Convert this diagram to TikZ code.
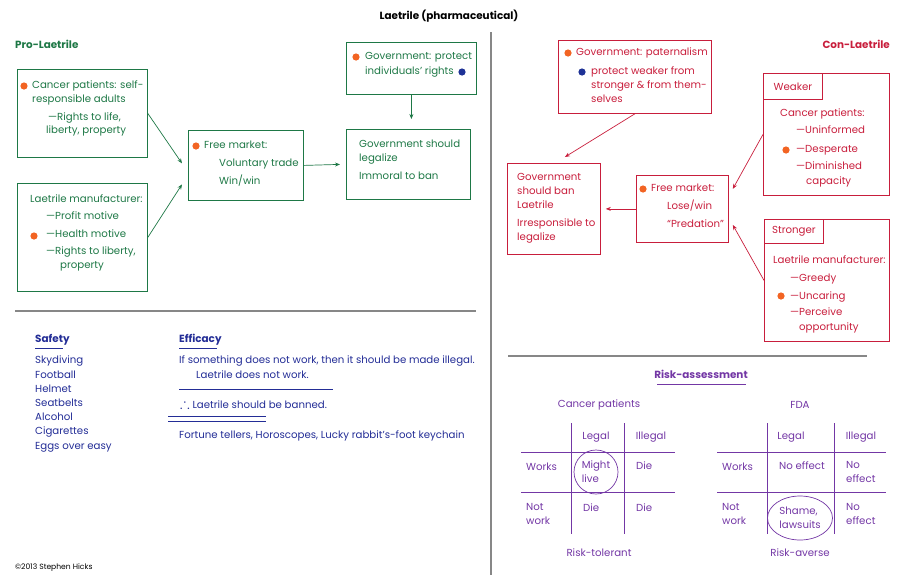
\documentclass[tikz,border=0pt]{standalone}
\usepackage{fontspec}
\usepackage{amssymb}
\setmainfont{Poppins}
\usetikzlibrary{arrows.meta,shapes.geometric}
\definecolor{ProGreen}{RGB}{30,120,70}
\definecolor{ConRed}{RGB}{200,30,60}
\definecolor{SafeBlue}{RGB}{35,45,150}
\definecolor{RiskPurple}{RGB}{115,55,165}
\definecolor{DotOrange}{RGB}{242,100,35}
\definecolor{DotBlue}{RGB}{30,50,150}
\definecolor{RuleGray}{RGB}{135,135,135}
\newcommand{\bodysize}{\fontsize{10.2}{14}\selectfont}
\newcommand{\headsize}{\fontsize{10.4}{14}\selectfont\bfseries}
\tikzset{
  pbox/.style={draw=ProGreen,line width=0.8pt,anchor=north west,inner sep=0pt},
  cbox/.style={draw=ConRed,line width=0.8pt,anchor=north west,inner sep=0pt},
  ptxt/.style={anchor=north west,inner sep=0pt,align=left,font=\bodysize,text=ProGreen},
  ctxt/.style={anchor=north west,inner sep=0pt,align=left,font=\bodysize,text=ConRed},
  btxt/.style={anchor=north west,inner sep=0pt,align=left,font=\bodysize,text=SafeBlue},
  rtxt/.style={anchor=north west,inner sep=0pt,align=left,font=\bodysize,text=RiskPurple},
  clbl/.style={cbox,font=\bodysize,text=ConRed},
  arrp/.style={-{Stealth[length=5pt,width=4pt]},ProGreen,line width=0.7pt},
  arrc/.style={-{Stealth[length=5pt,width=4pt]},ConRed,line width=0.7pt},
  odot/.style={fill=DotOrange},
  bdot/.style={fill=DotBlue},
  divider/.style={draw=RuleGray,line width=1.2pt},
  bline/.style={draw=SafeBlue,line width=0.7pt},
  tline/.style={draw=RiskPurple,line width=0.7pt},
}

\begin{document}
\begin{tikzpicture}[x=1pt,y=-1pt]
    \useasboundingbox (0,0) rectangle (900,582);

    % Title and dividers
    \node[font=\headsize] (title) at (449,16) {Laetrile (pharmaceutical)};
    \draw[divider] (491,32) -- (491,575);
    \draw[divider] (15,311) -- (476,311);
    \draw[divider] (508,356) -- (867,356);

    % Pro-Laetrile
    \node[ptxt, font=\headsize] (prohead) at (15,40) {Pro-Laetrile};
    \node[pbox, minimum width=130, minimum height=88] (cpat) at (17,69) {};
    \node[ptxt] (cpattxt) at (32,81) {Cancer patients: self-\\responsible adults\\[4pt]\hspace{16pt}—Rights to life,\\[-1pt]\hspace{14pt}liberty, property};
    \fill[odot] (24,86) circle[radius=3.6pt];

    \node[pbox, minimum width=130, minimum height=108] (lman) at (17,183) {};
    \node[ptxt] (lmantxt) at (30,195) {Laetrile manufacturer:\\[3pt]\hspace{16pt}—Profit motive\\[4pt]\hspace{16pt}—Health motive\\[3pt]\hspace{16pt}—Rights to liberty,\\\hspace{30pt}property};
    \fill[odot] (34,236) circle[radius=3.6pt];

    \node[pbox, minimum width=115, minimum height=70] (fmpro) at (188,130) {};
    \node[ptxt] (fmprotxt) at (204,141) {Free market:\\[4pt]\hspace{15pt}Voluntary trade\\[4pt]\hspace{15pt}Win/win};
    \fill[odot] (196,146) circle[radius=3.6pt];

    \node[pbox, minimum width=130, minimum height=52] (govp) at (346,42) {};
    \node[ptxt] (govptxt) at (365,52) {Government: protect\\[1pt]individuals’ rights};
    \fill[odot] (356,57) circle[radius=3.6pt];
    \fill[bdot] (462,72) circle[radius=3.6pt];

    \node[pbox, minimum width=124, minimum height=70] (govl) at (346,129) {};
    \node[ptxt] (govltxt) at (359,140) {Government should\\legalize\\[4pt]Immoral to ban};

    \draw[arrp] (cpat.east) -- ([shift={(-6pt,2pt)}]fmpro.west);
    \draw[arrp] (lman.east) -- ([shift={(-6pt,-19pt)}]fmpro.west);
    \draw[arrp] (fmpro.east) -- ([xshift=-6pt]govl.west);
    \draw[arrp] (govp.south) -- ([yshift=10pt]govp.south |- govl.north);

    % Con-Laetrile
    \node[ctxt, font=\headsize, anchor=north east] (conhead) at (890,40) {Con-Laetrile};
    \node[cbox, minimum width=153, minimum height=73] (pat) at (558,40) {};
    \node[ctxt] (pattxt) at (576,48) {Government: paternalism};
    \node[ctxt] (pattxtb) at (591,67) {protect weaker from\\stronger \& from them-\\selves};
    \fill[odot] (568,53) circle[radius=3.6pt];
    \fill[bdot] (582,72) circle[radius=3.6pt];

    \node[cbox, minimum width=93, minimum height=91] (ban) at (507,163) {};
    \node[ctxt] (bantxt) at (517,173) {Government\\should ban\\Laetrile\\[4pt]Irresponsible to\\legalize};

    \node[cbox, minimum width=92, minimum height=67] (fmc) at (636,175) {};
    \node[ctxt] (fmctxt) at (651,184) {Free market:\\[4pt]\hspace{16pt}Lose/win\\[4pt]\hspace{16pt}“Predation”};
    \fill[odot] (643,189) circle[radius=3.6pt];

    \node[cbox, minimum width=126, minimum height=122] (weak) at (763,73) {};
    \node[clbl, minimum width=59, minimum height=26] (weaklbl) at (763,73) {Weaker};
    \node[ctxt] (weaktxt) at (780,109) {Cancer patients:\\[3pt]\hspace{16pt}—Uninformed\\[5pt]\hspace{16pt}—Desperate\\[3pt]\hspace{16pt}—Diminished\\[1pt]\hspace{26pt}capacity};
    \fill[odot] (786,150) circle[radius=3.6pt];

    \node[cbox, minimum width=125, minimum height=122] (strong) at (764,219) {};
    \node[clbl, minimum width=59, minimum height=24] (stronglbl) at (764,219) {Stronger};
    \node[ctxt] (strongtxt) at (773,256) {Laetrile manufacturer:\\[3pt]\hspace{17pt}—Greedy\\[4pt]\hspace{17pt}—Uncaring\\[3pt]\hspace{17pt}—Perceive\\[1pt]\hspace{26pt}opportunity};
    \fill[odot] (781,296) circle[radius=3.6pt];

    \draw[arrc] (pat.south) -- ([shift={(11pt,6pt)}]ban.north);
    \draw[arrc] (weak.west) -- ([shift={(4pt,20pt)}]fmc.east);
    \draw[arrc] (strong.west) -- ([shift={(4pt,-16pt)}]fmc.east);
    \draw[arrc] (fmc.west) -- ([xshift=5pt]ban.east);

    % Safety and efficacy
    \node[btxt, font=\headsize] (safehead) at (35,334) {Safety};
    \draw[bline] (35,348) -- (63,348);
    \node[btxt, font=\fontsize{10.2}{14.2}\selectfont] (safelist) at (35,356) {Skydiving\\Football\\Helmet\\Seatbelts\\Alcohol\\Cigarettes\\Eggs over easy};
    \node[btxt, font=\headsize] (effhead) at (179,334) {Efficacy};
    \draw[bline] (179,348) -- (217,348);
    \node[btxt] (premise) at (179,356) {If something does not work, then it should be made illegal.\\\hspace{17pt}Laetrile does not work.};
    \draw[bline] (179,389) -- (333,389);
    \node[btxt] (concl) at (180,398) {{\Large$\therefore$} Laetrile should be banned.};
    \draw[bline] (168,416) -- (266,416);
    \draw[bline] (168,421) -- (266,421);
    \node[btxt] (fortune) at (179,430) {Fortune tellers, Horoscopes, Lucky rabbit’s-foot keychain};
    \node[anchor=west, inner sep=0pt, font=\fontsize{7.6}{8}\selectfont] (copy) at (15,568) {©2013 Stephen Hicks};

    % Risk-assessment
    \node[rtxt, anchor=center, font=\headsize] (riskhead) at (701,374) {Risk-assessment};
    \draw[tline] (657,384) -- (746,384);
    \node[rtxt, anchor=center] (cphead) at (599,405) {Cancer patients};
    \node[rtxt, anchor=center] (fdahead) at (800,405) {FDA};

    \draw[tline] (571,423) -- (571,534);
    \draw[tline] (624,423) -- (624,534);
    \draw[tline] (521,452) -- (675,452);
    \draw[tline] (521,492) -- (675,492);
    \node[rtxt, anchor=center] (leg1) at (596,437) {Legal};
    \node[rtxt, anchor=center] (ill1) at (651,437) {Illegal};
    \node[rtxt, anchor=west] (works1) at (526,467) {Works};
    \node[rtxt, anchor=center, draw=RiskPurple, line width=0.7pt, circle, minimum size=44pt] (mlive) at (596,472) {Might\\live};
    \node[rtxt, anchor=west] (die1) at (636,466) {Die};
    \node[rtxt] (notw1) at (526,503) {Not\\work};
    \node[rtxt, anchor=west] (die2) at (583,508) {Die};
    \node[rtxt, anchor=west] (die3) at (636,508) {Die};
    \node[rtxt, anchor=center] (tol) at (599,553) {Risk-tolerant};

    \draw[tline] (767,423) -- (767,534);
    \draw[tline] (834,423) -- (834,534);
    \draw[tline] (717,452) -- (886,452);
    \draw[tline] (717,492) -- (886,492);
    \node[rtxt, anchor=center] (leg2) at (791,437) {Legal};
    \node[rtxt, anchor=center] (ill2) at (861,437) {Illegal};
    \node[rtxt, anchor=west] (works2) at (722,467) {Works};
    \node[rtxt, anchor=west] (noeff1) at (779,466) {No effect};
    \node[rtxt] (noeff2) at (846,461) {No\\effect};
    \node[rtxt] (notw2) at (722,503) {Not\\work};
    \node[rtxt, anchor=center, draw=RiskPurple, line width=0.7pt, ellipse, minimum width=65pt, minimum height=44pt] (shame) at (800,518) {Shame,\\lawsuits};
    \node[rtxt] (noeff3) at (846,503) {No\\effect};
    \node[rtxt, anchor=center] (avers) at (800,553) {Risk-averse};
\end{tikzpicture}
\end{document}
